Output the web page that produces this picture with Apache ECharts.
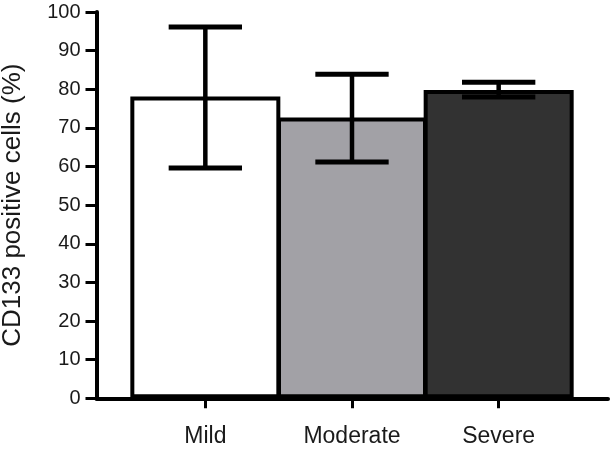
<!DOCTYPE html>
<html>
<head>
<meta charset="utf-8">
<script src="https://cdn.jsdelivr.net/npm/echarts@6/dist/echarts.min.js"></script>
<style>html,body{margin:0;padding:0;background:#fff}#c{width:611px;height:465px}</style>
</head>
<body>
<div id="c"></div>
<script>
const categories = ['Mild', 'Moderate', 'Severe'];
const means = [78.1, 72.7, 79.8];
const lowerErr = [59.6, 61.2, 78.0];
const upperErr = [96.1, 83.9, 81.8];
const barColors = ['#ffffff', '#a2a1a6', '#323232'];
const yTicks = { min: 0, max: 100, interval: 10 };
const yTitle = 'CD133 positive cells (%)';

const chart = echarts.init(document.getElementById('c'));
const font = 'Liberation Sans, Arial, sans-serif';
const txt = '#1a1a1a';
const G = { top: 12, bottom: 66.7 };

chart.setOption({
  animation: false,
  backgroundColor: '#ffffff',
  grid: [
    { left: 96.5, right: 3, top: G.top, bottom: G.bottom, containLabel: false, outerBoundsMode: 'none' },
    { left: 132, right: 39, top: G.top, bottom: G.bottom, containLabel: false, outerBoundsMode: 'none' }
  ],
  xAxis: [
    { gridIndex: 0, type: 'value', min: 0, max: 1, axisLine: { show: true, onZero: false, lineStyle: { color: '#000', width: 4 } },
      axisTick: { show: false }, axisLabel: { show: false }, splitLine: { show: false } },
    { gridIndex: 1, type: 'category', data: categories, boundaryGap: true,
      axisLine: { show: false }, splitLine: { show: false },
      axisTick: { show: true, alignWithLabel: true, length: 10, lineStyle: { color: '#000', width: 3 } },
      axisLabel: { fontSize: 23, fontFamily: font, color: txt, margin: 27 } }
  ],
  yAxis: [
    { gridIndex: 0, type: 'value', min: yTicks.min, max: yTicks.max, interval: yTicks.interval,
      axisLine: { show: true, lineStyle: { color: '#000', width: 4 } },
      axisTick: { show: true, inside: false, length: 11, lineStyle: { color: '#000', width: 3 } },
      axisLabel: { fontSize: 20, fontFamily: font, color: txt, margin: 16 },
      splitLine: { show: false },
      name: yTitle, nameLocation: 'middle', nameGap: 71, nameRotate: 90,
      nameTextStyle: { fontSize: 26, fontFamily: font, color: txt } },
    { gridIndex: 1, type: 'value', min: yTicks.min, max: yTicks.max, interval: yTicks.interval, show: false }
  ],
  series: [
    { type: 'bar', xAxisIndex: 1, yAxisIndex: 1, barWidth: 150, barGap: 0,
      data: means.map((v, i) => ({ value: v, itemStyle: { color: barColors[i] } })),
      itemStyle: { borderColor: '#000', borderWidth: 4 }, z: 2 },
    { type: 'custom', xAxisIndex: 1, yAxisIndex: 1, z: 5,
      data: categories.map((c, i) => [i, lowerErr[i], upperErr[i]]),
      renderItem: function (params, api) {
        const x = api.value(0);
        const lo = api.coord([x, api.value(1)]);
        const hi = api.coord([x, api.value(2)]);
        const half = api.size([1, 0])[0] * 0.25;
        const st = { stroke: '#000', lineWidth: 4.5 };
        return { type: 'group', children: [
          { type: 'line', shape: { x1: lo[0], y1: lo[1], x2: hi[0], y2: hi[1] }, style: st },
          { type: 'line', shape: { x1: hi[0] - half, y1: hi[1], x2: hi[0] + half, y2: hi[1] }, style: { stroke: '#000', lineWidth: 5 } },
          { type: 'line', shape: { x1: lo[0] - half, y1: lo[1], x2: lo[0] + half, y2: lo[1] }, style: { stroke: '#000', lineWidth: 5 } }
        ] };
      } }
  ]
});
</script>
</body>
</html>
